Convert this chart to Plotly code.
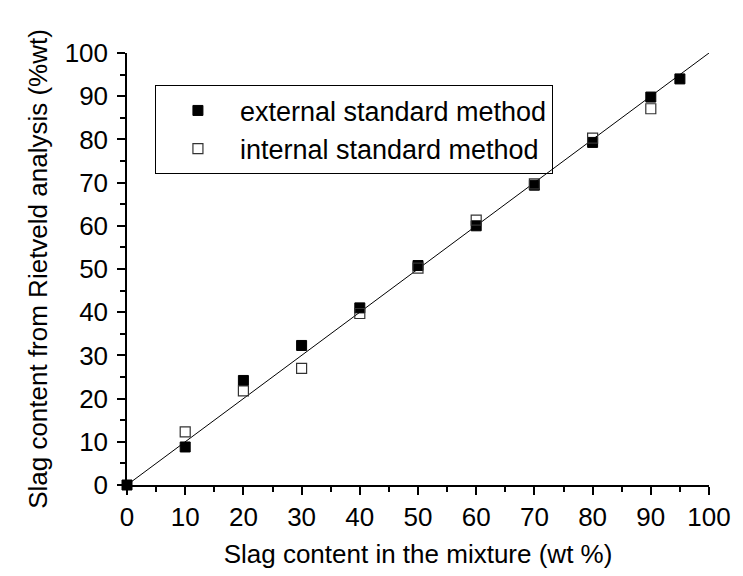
import plotly.graph_objects as go

x_ext = [0, 10, 20, 30, 40, 50, 60, 70, 80, 90, 95]
y_ext = [0, 8.8, 24.2, 32.3, 41.0, 50.8, 60.0, 69.4, 79.3, 89.8, 94.0]

x_int = [10, 20, 30, 40, 50, 60, 70, 80, 90]
y_int = [12.3, 21.8, 27.0, 39.7, 50.2, 61.3, 69.7, 80.3, 87.1]

x_line = [0, 100]
y_line = [0, 100]

FONT = "Liberation Sans, Arial, sans-serif"
FS = 26

fig = go.Figure()
fig.add_trace(go.Scatter(x=x_line, y=y_line, mode="lines",
                         line=dict(color="black", width=1), showlegend=False,
                         hoverinfo="skip"))
fig.add_trace(go.Scatter(x=x_ext, y=y_ext, mode="markers", name="external standard method",
                         marker=dict(symbol="square", size=10, color="black",
                                     line=dict(color="black", width=1)),
                         cliponaxis=False))
fig.add_trace(go.Scatter(x=x_int, y=y_int, mode="markers", name="internal standard method",
                         marker=dict(symbol="square-open", size=10, color="#333333",
                                     line=dict(width=1.2)),
                         cliponaxis=False))

axis_common = dict(
    range=[0, 100], dtick=10, tick0=0, showgrid=False, zeroline=False,
    showline=True, linecolor="black", linewidth=1.5,
    ticks="outside", ticklen=8, tickwidth=1.5, tickcolor="black",
    tickfont=dict(family=FONT, size=FS, color="black"),
    minor=dict(dtick=5, ticks="outside", ticklen=5, tickwidth=1.5, tickcolor="black", showgrid=False),
    mirror=False,
)

fig.update_layout(
    width=743, height=576,
    margin=dict(l=127, r=24, t=53, b=91),
    paper_bgcolor="white", plot_bgcolor="white",
    font=dict(family=FONT, size=FS, color="black"),
    xaxis=dict(**axis_common,
               title=dict(text="Slag content in the mixture (wt %)",
                          font=dict(family=FONT, size=FS), standoff=14)),
    yaxis=dict(**axis_common, ticklabelstandoff=4,
               title=dict(text="Slag content from Rietveld analysis (%wt)",
                          font=dict(family=FONT, size=FS), standoff=10)),
    legend=dict(x=0.048, y=0.925, xanchor="left", yanchor="top",
                bordercolor="black", borderwidth=1, bgcolor="rgba(255,255,255,0)",
                font=dict(family=FONT, size=27), itemwidth=74,
                tracegroupgap=0),
    showlegend=True,
)

fig.write_html("out.html")
